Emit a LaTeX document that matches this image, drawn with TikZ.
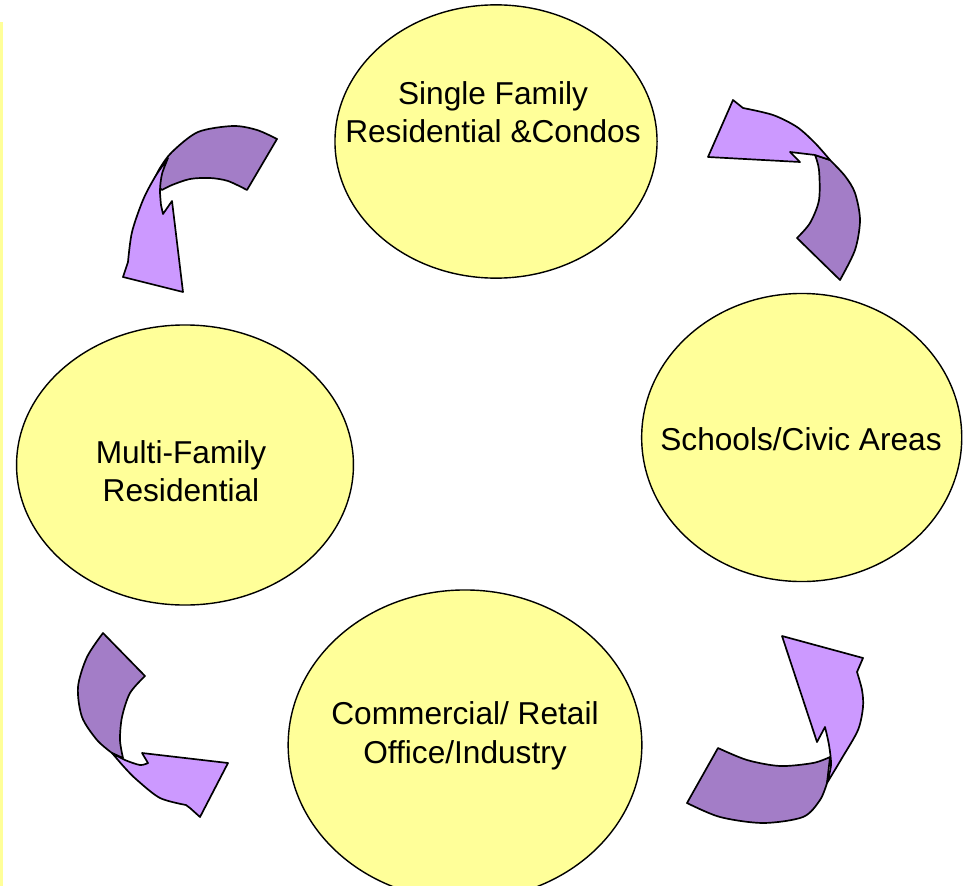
\documentclass[tikz,border=0pt]{standalone}
\usepackage{fontspec}
\setmainfont{Liberation Sans}
\usepackage{tikz}
\usetikzlibrary{shapes.geometric}
\definecolor{paleyellow}{rgb}{1.0, 1.0, 0.6}
\definecolor{lavender}{rgb}{0.8, 0.6, 1.0}
\definecolor{amethyst}{rgb}{0.64, 0.49, 0.78}

\begin{document}
\begin{tikzpicture}[x=0.025cm, y=-0.025cm,
    zone/.style={draw=black, line width=1pt, fill=paleyellow, ellipse, inner sep=0pt},
    zonetext/.style={font=\fontsize{22.5}{27.4}\selectfont, inner sep=0pt},
    bodypart/.style={draw=black, line width=1.2pt, line join=round, fill=amethyst},
    headpart/.style={draw=black, line width=1.2pt, line join=round, fill=lavender}]
    \useasboundingbox (0,0) rectangle (965,886);
    \fill[paleyellow] (0,22) rectangle (2.5,886);

    \node[zone, minimum width=8.05cm, minimum height=6.83cm] (single) at (496,141.5) {};
    \node[zone, minimum width=8.0cm, minimum height=7.2cm] (schools) at (801.7,437.5) {};
    \node[zone, minimum width=8.42cm, minimum height=7.0cm] (multi) at (185,465) {};
    \node[zone, minimum width=8.84cm, minimum height=7.75cm] (commercial) at (465,745) {};

    \node[zonetext, align=center] (singletext) at (493,112) {Single Family\\Residential \&Condos};
    \node[zonetext, anchor=base] (schoolstext) at (801,450) {Schools/Civic Areas};
    \node[zonetext, align=center] (multitext) at (181,471) {Multi-Family\\Residential};
    \node[zonetext, align=center] (commercialtext) at (465,736) {Commercial/ Retail\\Office/Industry};

    % Cycle arrows
    \filldraw[bodypart] (277,139) -- (247,190)
        -- plot[smooth] coordinates {(247,190) (228,181) (210,178) (190,179) (172,185) (162,190)}
        -- (153,182)
        -- plot[smooth] coordinates {(153,182) (160,168) (172,152) (198,132) (233,126) (257,130) (277,139)} -- cycle;
    \filldraw[headpart] plot[smooth] coordinates {(168,158) (155,177) (143,200) (132,232) (128,262)}
        -- (123,277) -- (183,292) -- (172,201) -- (163,214)
        -- plot[smooth] coordinates {(161,205) (160,190) (162,174) (168,158)} -- cycle;

    \filldraw[bodypart] plot[smooth] coordinates {(815,155) (819,170) (819,200) (810,223) (797,238)}
        -- (840,280)
        -- plot[smooth] coordinates {(840,280) (855,250) (860,220) (855,193) (845,176) (830,160)} -- cycle;
    \filldraw[headpart] (708,157) -- (733,100) -- (743,108)
        -- plot[smooth] coordinates {(743,108) (773,115) (797,127) (815,143) (830,160)}
        -- (815,155) -- (790,152) -- (800,162) -- cycle;

    \filldraw[bodypart] (103,633) -- (145,676)
        -- plot[smooth] coordinates {(145,676) (130,693) (122,717) (120,740) (123,758)}
        -- (112,753)
        -- plot[smooth] coordinates {(112,753) (97,740) (82,717) (78,687) (87,657) (103,633)} -- cycle;
    \filldraw[headpart] plot[smooth] coordinates {(112,753) (125,768) (137,780) (160,798) (186,805)}
        -- (190,808) -- (200,817) -- (228,763) -- (142,753) -- (148,763)
        -- plot[smooth] coordinates {(148,763) (140,765) (125,760) (112,753)} -- cycle;

    \filldraw[bodypart] plot[smooth] coordinates {(718,748) (747,760) (780,766) (813,763) (830,757)}
        -- (827,783)
        -- plot[smooth] coordinates {(827,783) (820,800) (803,817) (763,823) (720,817) (687,803)} -- cycle;
    \filldraw[headpart] (782,636) -- (863,658) -- (857,672)
        -- plot[smooth] coordinates {(857,672) (862,690) (863,707) (858,730) (842,758) (827,783)}
        -- plot[smooth] coordinates {(827,783) (831,765) (829,745) (825,727)}
        -- (817,742) -- cycle;
\end{tikzpicture}
\end{document}
